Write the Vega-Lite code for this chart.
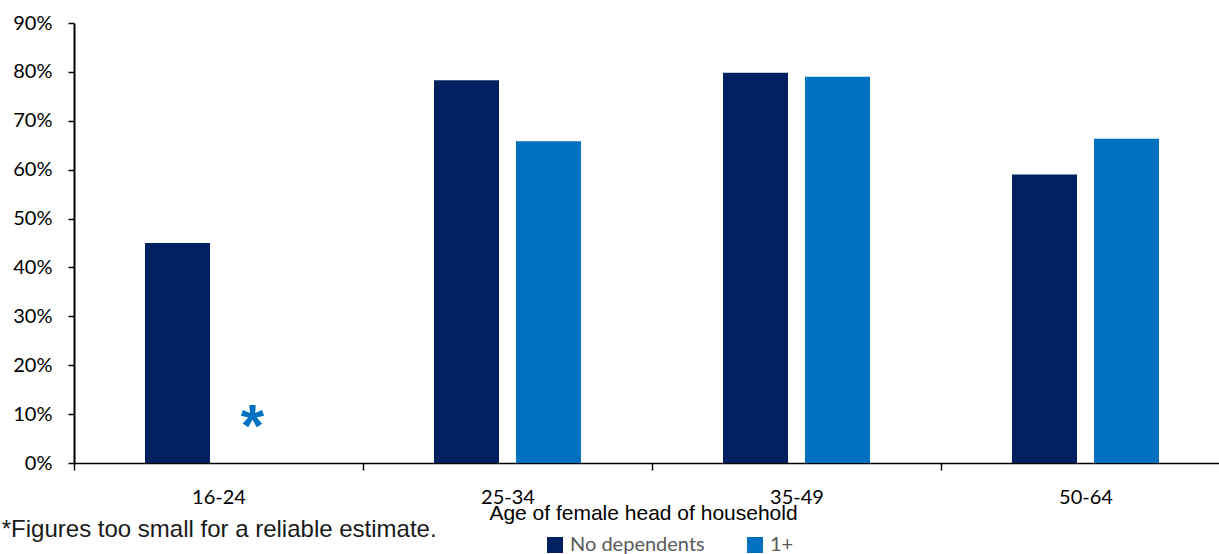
{
  "$schema": "https://vega.github.io/schema/vega-lite/v6.json",
  "width": 1156,
  "height": 440,
  "autosize": {"type": "none"},
  "padding": {"left": 74, "top": 23, "right": 0, "bottom": 91},
  "background": "white",
  "config": {"view": {"stroke": null}, "font": "Lato"},
  "title": {
    "text": "*Figures too small for a reliable estimate.",
    "orient": "bottom",
    "anchor": "start",
    "frame": "bounds",
    "offset": -37,
    "dx": -11,
    "font": "Liberation Sans",
    "fontSize": 24,
    "fontWeight": "normal",
    "color": "#1a1a1a"
  },
  "data": {
    "values": [
      {"age": "16-24", "group": "No dependents", "pct": 0.450, "note": null},
      {"age": "16-24", "group": "1+", "pct": null, "note": "*"},
      {"age": "25-34", "group": "No dependents", "pct": 0.783, "note": null},
      {"age": "25-34", "group": "1+", "pct": 0.658, "note": null},
      {"age": "35-49", "group": "No dependents", "pct": 0.798, "note": null},
      {"age": "35-49", "group": "1+", "pct": 0.790, "note": null},
      {"age": "50-64", "group": "No dependents", "pct": 0.590, "note": null},
      {"age": "50-64", "group": "1+", "pct": 0.663, "note": null}
    ]
  },
  "layer": [
    {
      "mark": {"type": "bar"},
      "encoding": {
        "x": {
          "field": "age",
          "type": "nominal",
          "sort": ["16-24", "25-34", "35-49", "50-64"],
          "scale": {"paddingInner": 0, "paddingOuter": 0},
          "axis": {
            "title": "Age of female head of household",
            "titleFont": "Liberation Sans",
            "titleFontSize": 21,
            "titleFontWeight": "normal",
            "titleColor": "#000000",
            "titlePadding": -5,
            "titleX": 569,
            "labelAngle": 0,
            "labelFont": "Lato",
            "labelFontSize": 20,
            "labelColor": "#000000",
            "labelPadding": 17,
            "tickBand": "extent",
            "tickSize": 7,
            "tickColor": "#000000",
            "tickWidth": 1.5,
            "domainColor": "#000000",
            "domainWidth": 1.5
          }
        },
        "xOffset": {
          "field": "group",
          "type": "nominal",
          "sort": ["No dependents", "1+"],
          "scale": {"paddingInner": 0.2073, "paddingOuter": 0.866}
        },
        "y": {
          "field": "pct",
          "type": "quantitative",
          "scale": {"domain": [0, 0.9]},
          "axis": {
            "title": null,
            "values": [0, 0.1, 0.2, 0.3, 0.4, 0.5, 0.6, 0.7, 0.8, 0.9],
            "format": ".0%",
            "grid": false,
            "labelFont": "Lato",
            "labelFontSize": 20,
            "labelColor": "#000000",
            "labelPadding": 16,
            "tickSize": 6,
            "tickColor": "#000000",
            "tickWidth": 1.5,
            "domainColor": "#000000",
            "domainWidth": 2
          }
        },
        "color": {
          "field": "group",
          "type": "nominal",
          "scale": {"domain": ["No dependents", "1+"], "range": ["#002060", "#0070C0"]},
          "legend": {
            "title": null,
            "orient": "none",
            "legendX": 471,
            "legendY": 512,
            "direction": "horizontal",
            "symbolType": "square",
            "symbolSize": 256,
            "symbolStrokeWidth": 0,
            "symbolOpacity": 1,
            "labelFont": "Lato",
            "labelFontSize": 20,
            "labelColor": "#595959",
            "columnPadding": 40,
            "labelOffset": 5,
            "padding": 0
          }
        }
      }
    },
    {
      "transform": [{"filter": "datum.note != null"}],
      "mark": {
        "type": "text",
        "font": "Liberation Sans",
        "fontWeight": "bold",
        "fontSize": 60,
        "color": "#0070C0",
        "baseline": "alphabetic",
        "dy": -17,
        "dx": -7
      },
      "encoding": {
        "x": {"field": "age", "type": "nominal", "sort": ["16-24", "25-34", "35-49", "50-64"]},
        "xOffset": {"field": "group", "type": "nominal", "sort": ["No dependents", "1+"]},
        "y": {"datum": 0},
        "text": {"field": "note"}
      }
    }
  ]
}
